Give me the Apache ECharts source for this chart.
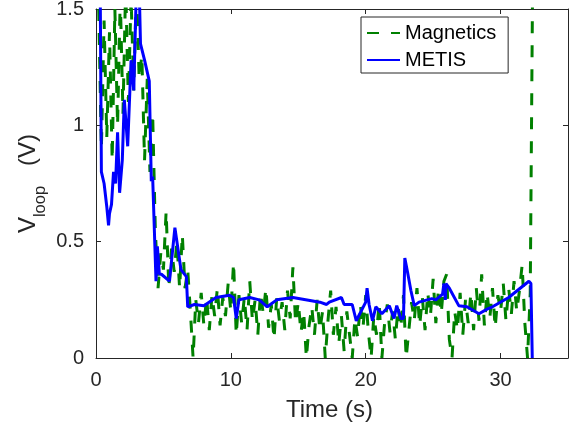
<!DOCTYPE html>
<html>
<head>
<meta charset="utf-8">
<script src="https://cdn.jsdelivr.net/npm/echarts@6/dist/echarts.min.js"></script>
<style>html,body{margin:0;padding:0;background:#fff;}#c{width:577px;height:428px;}</style>
</head>
<body>
<div id="c"></div>
<script>
// ---- data ----
const seriesNames = ['Magnetics', 'METIS'];
const xTicks = [0, 10, 20, 30];
const yTicks = [0, 0.5, 1, 1.5];

const magTime = [0.2,0.4,0.6,0.8,1.0,1.2,1.4,1.6,1.8,2.0,2.2,2.4,2.6,2.8,3.0,3.2,3.4,3.6,3.8,4.0,
  4.2,4.4,4.6,4.8,5.0,5.2,5.4,5.6,5.8,6.0,6.2,6.4,6.6,6.8,7.0,7.2,7.4,7.6,7.8,8.0,
  8.2,8.4,8.6,8.8,9.0,9.2,9.4,9.6,9.8,10.0,10.2,10.4,10.6,10.8,11.0,11.2,11.4,11.6,11.8,12.0,
  12.2,12.4,12.6,12.8,13.0,13.2,13.4,13.6,13.8,14.0,14.2,14.4,14.6,14.8,15.0,15.2,15.4,15.6,15.8,16.0,
  16.2,16.4,16.6,16.8,17.0,17.2,17.4,17.6,17.8,18.0,18.2,18.4,18.6,18.8,19.0,19.2,19.4,19.6,19.8,20.0,
  20.2,20.4,20.6,20.8,21.0,21.2,21.4,21.6,21.8,22.0,22.2,22.4,22.6,22.8,23.0,23.2,23.4,23.6,23.8,24.0,
  24.2,24.4,24.6,24.8,25.0,25.2,25.4,25.6,25.8,26.0,26.2,26.4,26.6,26.8,27.0,27.2,27.4,27.6,27.8,28.0,
  28.2,28.4,28.6,28.8,29.0,29.2,29.4,29.6,29.8,30.0,30.2,30.4,30.6,30.8,31.0,31.2,31.4,31.6,31.8,32.0,
  32.2,32.4];
const magV = [1.5,0.9,1.45,0.95,1.4,0.85,1.5,1.0,1.55,1.05,1.6,1.1,1.55,1.15,1.6,1.2,1.3,0.85,1.2,0.8,
  1.05,0.55,0.3,0.45,0.38,0.63,0.3,0.47,0.37,0.5,0.3,0.53,0.3,0.38,0.2,0.0,0.25,0.15,0.28,0.14,
  0.26,0.12,0.27,0.18,0.3,0.14,0.26,0.18,0.32,0.2,0.41,0.1,0.27,0.15,0.26,0.12,0.33,0.16,0.25,0.1,
  0.28,0.19,0.3,0.13,0.23,0.08,0.26,0.16,0.24,0.12,0.29,0.17,0.39,0.15,0.24,0.11,0.2,0.0,0.14,0.22,
  0.1,0.25,0.12,0.2,0.0,0.16,0.29,0.1,0.22,0.06,0.18,0.03,0.2,0.1,0.0,0.17,0.09,0.23,0.13,0.27,
  0.11,0.0,0.18,0.1,0.24,0.0,0.15,0.23,0.11,0.2,0.08,0.22,0.13,0.27,0.0,0.12,0.24,0.16,0.3,0.14,
  0.26,0.12,0.28,0.18,0.34,0.15,0.3,0.19,0.33,0.36,0.08,0.0,0.2,0.12,0.28,0.1,0.25,0.15,0.28,0.12,
  0.3,0.16,0.36,0.14,0.28,0.17,0.3,0.13,0.27,0.2,0.32,0.16,0.3,0.19,0.33,0.2,0.29,0.4,0.15,0.0,
  0.28,1.8];

const metisTime = [0.3,0.4,0.6,0.8,0.93,1.0,1.15,1.3,1.45,1.6,1.75,1.95,2.1,2.35,2.6,2.8,3.0,3.2,3.3,3.6,
  3.95,4.1,4.2,4.45,4.55,4.7,4.85,5.45,5.85,6.3,6.7,6.8,7.3,8.0,8.9,9.9,10.2,10.4,10.6,11.4,
  12.1,12.7,13.4,14.6,16.6,17.1,17.3,18.2,18.4,19.0,19.3,20.0,20.1,20.25,20.5,20.75,21.2,21.75,22.1,22.3,
  22.6,22.8,22.9,23.1,23.35,23.6,23.95,24.9,25.2,25.7,25.8,25.9,25.95,26.2,26.9,27.5,28.4,29.0,29.4,30.6,
  32.1,32.25,32.35];
const metisV = [1.7,0.8,0.75,0.65,0.57,0.62,0.66,0.8,0.75,0.97,0.71,0.85,1.11,0.91,1.28,1.15,1.6,1.6,1.35,1.28,
  1.19,0.76,0.78,0.33,0.48,0.36,0.36,0.33,0.56,0.38,0.35,0.22,0.23,0.225,0.26,0.27,0.26,0.17,0.25,0.26,
  0.25,0.22,0.25,0.26,0.24,0.23,0.24,0.26,0.23,0.23,0.16,0.24,0.30,0.23,0.16,0.22,0.19,0.225,0.17,0.225,
  0.17,0.17,0.43,0.37,0.29,0.225,0.24,0.255,0.25,0.275,0.32,0.25,0.32,0.30,0.225,0.22,0.19,0.21,0.22,0.26,
  0.33,0.32,0.0];

// ---- chart ----
const FONT = '"Liberation Sans", Arial, Helvetica, sans-serif';
const AX = '#262626';
const zip = (a, b) => a.map((t, i) => [t, b[i]]);

const chart = echarts.init(document.getElementById('c'), null, {renderer: 'canvas'});

const axisCommon = {
  type: 'value',
  axisLine: {show: true, onZero: false, lineStyle: {color: AX, width: 1}},
  splitLine: {show: false}
};
const tickX = {show: true, inside: true, length: 5, customValues: xTicks, lineStyle: {color: AX, width: 1}};
const tickY = {show: true, inside: true, length: 5, customValues: yTicks, lineStyle: {color: AX, width: 1}};

chart.setOption({
  animation: false,
  backgroundColor: '#fff',
  textStyle: {fontFamily: FONT},
  grid: {left: 96, right: 9, top: 9, bottom: 70, containLabel: false, outerBoundsMode: 'none'},
  legend: {
    orient: 'vertical',
    left: 361,
    top: 17,
    padding: [6, 12, 3, 5],
    itemGap: 7,
    itemWidth: 33,
    itemHeight: 20,
    borderColor: AX,
    borderWidth: 1,
    backgroundColor: '#fff',
    itemStyle: {opacity: 0, color: 'rgba(0,0,0,0)', borderWidth: 0},
    textStyle: {fontSize: 20, color: '#000', fontFamily: FONT},
    data: seriesNames
  },
  xAxis: [
    Object.assign({}, axisCommon, {
      position: 'bottom', min: 0, max: 35,
      name: 'Time (s)', nameLocation: 'middle', nameGap: 40, nameMoveOverlap: false,
      nameTextStyle: {fontSize: 24, color: AX, fontFamily: FONT, padding: [0, 5, 0, 0]},
      axisTick: tickX,
      axisLabel: {fontSize: 20, color: AX, margin: 12, fontFamily: FONT, customValues: xTicks}
    }),
    Object.assign({}, axisCommon, {
      position: 'top', min: 0, max: 35,
      axisTick: tickX,
      axisLabel: {show: false}
    })
  ],
  yAxis: [
    Object.assign({}, axisCommon, {
      position: 'left', min: 0, max: 1.5,
      name: '{v|V}{s|loop}{v|   (V)}', nameLocation: 'middle', nameGap: 47, nameRotate: 90,
      nameMoveOverlap: false,
      nameTextStyle: {
        color: AX, fontFamily: FONT,
        rich: {
          v: {fontSize: 24, color: AX, fontFamily: FONT, verticalAlign: 'top'},
          s: {fontSize: 16.5, color: AX, fontFamily: FONT, verticalAlign: 'top', padding: [16, 0, 0, 0]}
        }
      },
      axisTick: tickY,
      axisLabel: {fontSize: 20, color: AX, margin: 12, fontFamily: FONT, customValues: yTicks}
    }),
    Object.assign({}, axisCommon, {
      position: 'right', min: 0, max: 1.5,
      axisTick: tickY,
      axisLabel: {show: false}
    })
  ],
  series: [
    {
      name: seriesNames[0], type: 'line', xAxisIndex: 0, yAxisIndex: 0,
      data: zip(magTime, magV), symbol: 'none', clip: true, z: 2,
      lineStyle: {color: '#008000', width: 3, type: [12, 12]},
      itemStyle: {color: '#008000'}
    },
    {
      name: seriesNames[1], type: 'line', xAxisIndex: 0, yAxisIndex: 0,
      data: zip(metisTime, metisV), symbol: 'none', clip: true, z: 3,
      lineStyle: {color: '#0000ff', width: 3},
      itemStyle: {color: '#0000ff'}
    }
  ]
});
</script>
</body>
</html>
